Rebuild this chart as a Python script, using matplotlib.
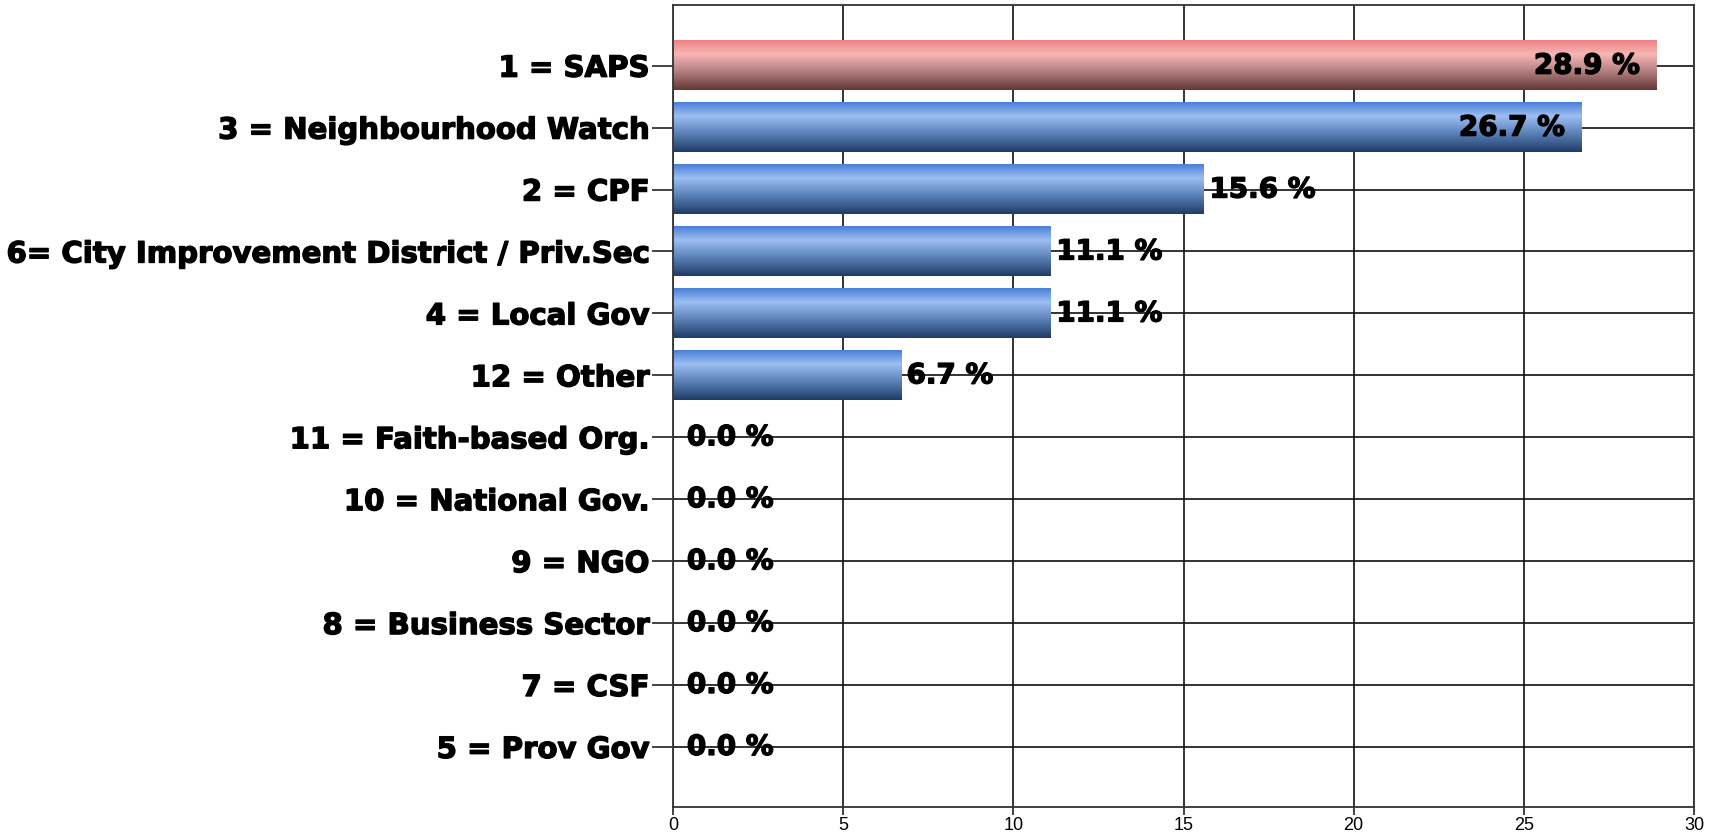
import numpy as np
import matplotlib.pyplot as plt
import matplotlib.patheffects as pe
from matplotlib.colors import LinearSegmentedColormap

plt.rcParams['font.family'] = ['DejaVu Sans']

categories = ["1 = SAPS", "3 = Neighbourhood Watch", "2 = CPF",
              "6= City Improvement District / Priv.Sec", "4 = Local Gov",
              "12 = Other", "11 = Faith-based Org.", "10 = National Gov.",
              "9 = NGO", "8 = Business Sector", "7 = CSF", "5 = Prov Gov"]
values = [28.9, 26.7, 15.6, 11.1, 11.1, 6.7, 0.0, 0.0, 0.0, 0.0, 0.0, 0.0]
xticks = [0, 5, 10, 15, 20, 25, 30]

# vertical gradients, top to bottom
blue = LinearSegmentedColormap.from_list(
    "blue", [(0, "#4a80d8"), (0.28, "#9dbef2"), (0.6, "#5f86bd"), (1, "#1f3c68")])
red = LinearSegmentedColormap.from_list(
    "red", [(0, "#f08282"), (0.28, "#f8b6b6"), (0.6, "#b88484"), (1, "#663636")])

heavy = [pe.withStroke(linewidth=1.0, foreground="black")]

fig = plt.figure(figsize=(17.23, 8.39), dpi=100)
ax = fig.add_axes([673 / 1723, 1 - 807 / 839, 1021 / 1723, 802 / 839])

y = np.arange(len(categories))
h = 0.8
bars = ax.barh(y, values, height=h, color="none", zorder=2)

grad = np.linspace(0, 1, 200).reshape(-1, 1)
for i, (b, v) in enumerate(zip(bars, values)):
    if v <= 0:
        continue
    cmap = red if i == 0 else blue
    ax.imshow(grad, cmap=cmap, aspect="auto", origin="upper",
              extent=(0, v, y[i] + h / 2, y[i] - h / 2), zorder=2)

for i, v in enumerate(values):
    txt = f"{v:.1f} %"
    if v > 20:
        ax.annotate(txt, (v, y[i]), xytext=(-12, 0), textcoords="offset points",
                    ha="right", va="center", fontsize=20, fontweight="bold",
                    path_effects=heavy, zorder=4)
    else:
        ax.annotate(txt, (v, y[i]), xytext=(4 if v > 0 else 10, 0), textcoords="offset points",
                    ha="left", va="center", fontsize=20, fontweight="bold",
                    path_effects=heavy, zorder=4)

ax.set_xlim(0, 30)
ax.set_ylim(11.97, -0.98)
ax.set_xticks(xticks)
ax.set_xticklabels([str(t) for t in xticks], family=['Liberation Sans Narrow', 'Liberation Sans'],
                   fontsize=13)
ax.set_yticks(y)
ax.set_yticklabels(categories, fontsize=21, fontweight="bold")
for lbl in ax.get_yticklabels():
    lbl.set_path_effects(heavy)
ax.tick_params(axis="y", length=15, width=1.2, color="#222222", pad=2)
ax.tick_params(axis="x", length=6, width=1.2, color="#222222", pad=1)

ax.set_axisbelow(True)
ax.grid(True, color="#111111", linewidth=1.2)
for s in ax.spines.values():
    s.set_color("#333333")
    s.set_linewidth(1.3)

fig.savefig("out.png", dpi=100)
